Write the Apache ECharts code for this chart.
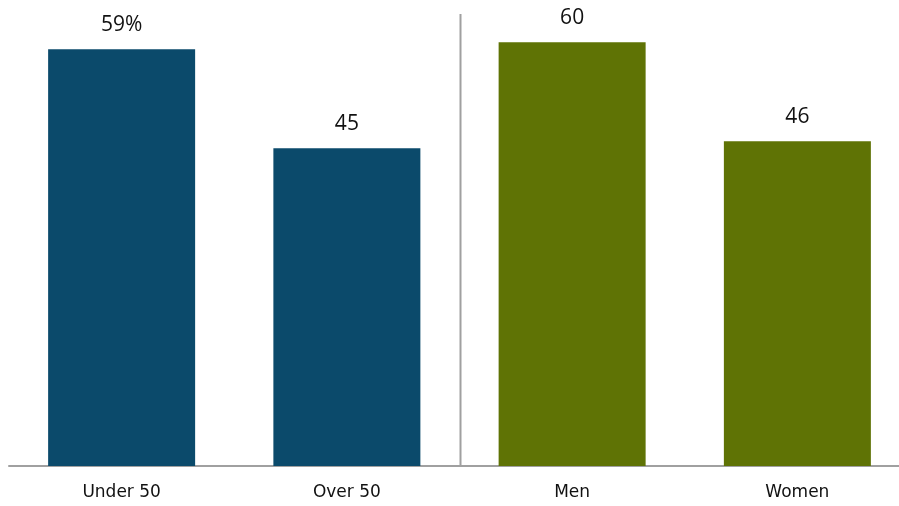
<!DOCTYPE html>
<html>
<head>
<meta charset="utf-8">
<style>
  html, body { margin: 0; padding: 0; background: #ffffff; overflow: hidden; }
  #wrap { width: 899px; height: 506px; overflow: hidden; }
  #chart { width: 912px; height: 506px; }
</style>
<script src="https://cdn.jsdelivr.net/npm/echarts@6/dist/echarts.min.js"></script>
</head>
<body>
<div id="wrap"><div id="chart"></div></div>
<script>
// Share by age group and by gender
const categories = ['Under 50', 'Over 50', 'Men', 'Women'];
const values = [59, 45, 60, 46];
const groupColors = ['#0b4a6b', '#0b4a6b', '#5f7305', '#5f7305'];
// the divider sits between the age pair and the gender pair
const dividerAfter = 1;

const chart = echarts.init(document.getElementById('chart'), null, { renderer: 'canvas' });

chart.setOption({
  animation: false,
  backgroundColor: '#ffffff',
  grid: { left: 9, top: 14, right: 2, bottom: 40, containLabel: false },
  xAxis: {
    type: 'category',
    data: categories,
    boundaryGap: true,
    axisLine: { show: true, lineStyle: { color: '#a0a0a0', width: 2 } },
    axisTick: { show: false },
    axisLabel: {
      color: '#111111',
      fontFamily: 'DejaVu Sans',
      fontSize: 17,
      margin: 18
    },
    splitLine: { show: false }
  },
  yAxis: {
    type: 'value',
    min: 0,
    max: 64,
    show: false,
    splitLine: { show: false }
  },
  series: [{
    type: 'bar',
    barWidth: 147,
    data: values.map((v, i) => ({ value: v, itemStyle: { color: groupColors[i] } })),
    label: {
      show: true,
      position: 'top',
      distance: 14,
      color: '#111111',
      fontFamily: 'Open Sans',
      fontSize: 21,
      formatter: p => p.dataIndex === 0 ? p.value + '%' : String(p.value)
    }
  }]
});

// vertical divider halfway between the two neighbouring category centres
const a = chart.convertToPixel({ gridIndex: 0 }, [dividerAfter, 0]);
const b = chart.convertToPixel({ gridIndex: 0 }, [dividerAfter + 1, 64]);
const xMid = Math.round((a[0] + b[0]) / 2) + 0.5;
chart.setOption({
  graphic: [{
    type: 'line',
    shape: { x1: xMid, y1: b[1], x2: xMid, y2: a[1] },
    style: { stroke: '#a0a0a0', lineWidth: 2 },
    z: 5
  }]
});
</script>
</body>
</html>
